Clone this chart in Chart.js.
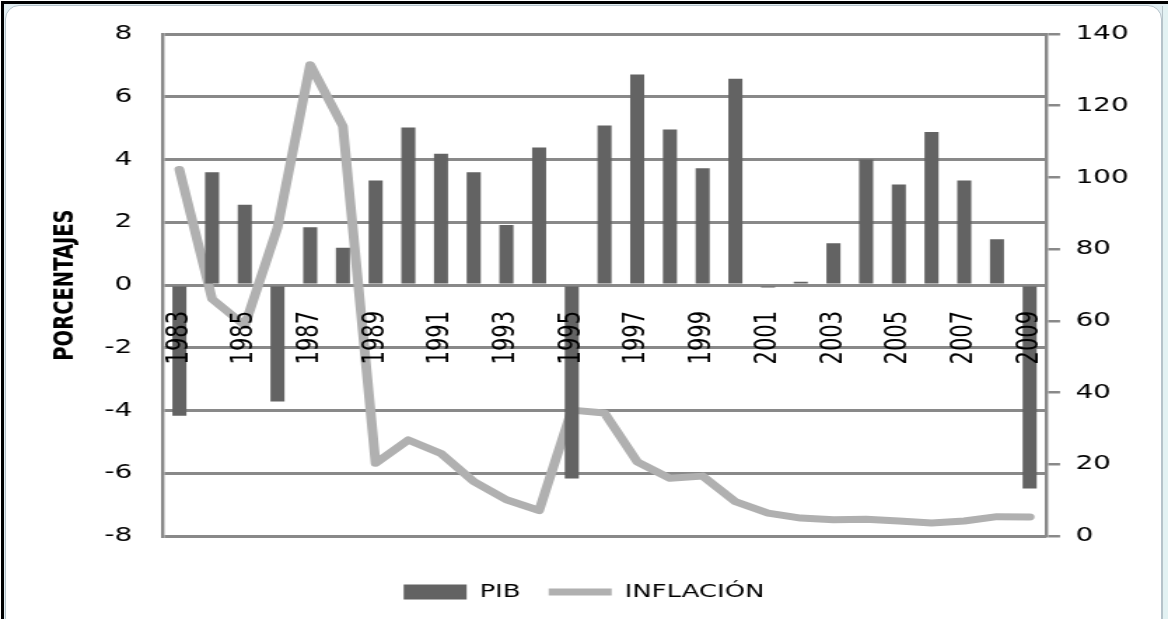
<!DOCTYPE html>
<html lang="es">
<head>
<meta charset="utf-8">
<title>PIB e inflación, 1983-2009</title>
<script src="https://cdn.jsdelivr.net/npm/chart.js@4.4.1/dist/chart.umd.min.js"></script>
<style>
  html, body { margin: 0; padding: 0; width: 1168px; height: 619px; overflow: hidden; background: #fff; }
  #mat   { position: absolute; left: 4px; top: 4px; width: 1164px; height: 615px; background: #e2eef2; }
  #edge  { position: absolute; left: 1px; top: 1px; width: 1167px; height: 618px; box-sizing: border-box;
           border-top: 3px solid #000; border-left: 3px solid #000; }
  #side  { position: absolute; left: 1162px; top: 6px; width: 6px; height: 613px; box-sizing: border-box;
           background: #e3f2f3; border-left: 1px solid #b6c3c9; }
  #panel { position: absolute; left: 5px; top: 5px; width: 1157px; height: 680px; box-sizing: border-box;
           border: 1px solid #b4c2ca; border-radius: 14px; background: #fff; }
  #plot  { position: absolute; left: 0; top: 0; width: 834px; height: 619px;
           transform-origin: 0 0; transform: scaleX(1.40048); }
</style>
</head>
<body>
<div id="mat"></div>
<div id="side"></div>
<div id="panel"></div>
<div id="edge"></div>
<canvas id="plot" width="834" height="619"></canvas>
<script>
// Años de la serie
const years = ['1983', '1984', '1985', '1986', '1987', '1988', '1989', '1990', '1991',
               '1992', '1993', '1994', '1995', '1996', '1997', '1998', '1999', '2000',
               '2001', '2002', '2003', '2004', '2005', '2006', '2007', '2008', '2009'];

// Crecimiento del PIB (%), eje izquierdo
const pib = [-4.17, 3.59, 2.56, -3.71, 1.84, 1.19, 3.33, 5.02, 4.18,
             3.59, 1.91, 4.38, -6.17, 5.08, 6.71, 4.96, 3.72, 6.57,
             -0.08, 0.1, 1.33, 4.0, 3.2, 4.88, 3.33, 1.46, -6.49];

// Inflación anual (%), eje derecho
const inflacion = [102.2, 66.1, 58.7, 86.0, 131.4, 114.3, 20.3, 26.8, 23.0,
                   15.2, 10.1, 7.1, 35.1, 34.3, 20.7, 16.1, 16.7, 9.6,
                   6.4, 5.0, 4.5, 4.7, 4.2, 3.6, 4.2, 5.4, 5.3];

// Rangos de los ejes
const pibAxis = { min: -8, max: 8, step: 2 };
const inflAxis = { min: 0, max: 140, step: 20 };

Chart.defaults.font.family = "'DejaVu Sans', sans-serif";
Chart.defaults.color = '#000';

const gridGray = '#898989';

new Chart(document.getElementById('plot'), {
  type: 'bar',
  data: {
    labels: years,
    datasets: [
      {
        label: 'PIB',
        type: 'bar',
        data: pib,
        xAxisID: 'x',
        yAxisID: 'y',
        backgroundColor: '#636363',
        borderWidth: 0,
        barPercentage: 0.43,
        categoryPercentage: 1,
        pointStyle: 'rect'
      },
      {
        label: 'INFLACIÓN',
        type: 'line',
        data: inflacion,
        xAxisID: 'x',
        yAxisID: 'y1',
        borderColor: '#b0b0b0',
        backgroundColor: '#b0b0b0',
        borderWidth: 7,
        borderJoinStyle: 'round',
        borderCapStyle: 'round',
        pointRadius: 0,
        pointStyle: 'line',
        tension: 0,
        fill: false
      }
    ]
  },
  options: {
    responsive: false,
    animation: false,
    events: [],
    layout: { padding: { left: 0, right: 0, top: 32.3, bottom: 7.75 } },
    plugins: {
      tooltip: { enabled: false },
      legend: {
        position: 'bottom',
        labels: {
          usePointStyle: true,
          pointStyleWidth: 45,
          boxHeight: 15,
          padding: 20,
          color: '#000',
          font: { size: 18.5 }
        }
      }
    },
    scales: {
      // años, colgados de la línea del cero y dibujados encima de las barras
      x: {
        type: 'category',
        position: { y: 0 },
        offset: true,
        grid: { display: false, drawTicks: false },
        border: { display: false },
        ticks: {
          z: 1,
          autoSkip: false,
          minRotation: 90,
          maxRotation: 90,
          padding: 26,
          font: { size: 21 },
          callback(value, index) {
            return index % 2 === 0 ? this.getLabelForValue(value) : '';
          }
        }
      },
      // separación entre el área de trazado y la leyenda
      gap: {
        type: 'linear',
        axis: 'x',
        position: 'bottom',
        display: true,
        grid: { display: false, drawTicks: false },
        border: { display: false },
        ticks: { display: false },
        afterFit(scale) { scale.height = 26.75; }
      },
      y: {
        type: 'linear',
        position: 'left',
        min: pibAxis.min,
        max: pibAxis.max,
        ticks: { stepSize: pibAxis.step, padding: 22, font: { size: 20 } },
        grid: { color: gridGray, lineWidth: 3, drawTicks: false },
        border: { color: gridGray, width: 2.4 },
        title: {
          display: true,
          text: 'PORCENTAJES',
          color: '#000',
          font: { size: 19.5, weight: 'bold', lineHeight: 1.2 },
          padding: { top: 34.9, bottom: 0 }
        },
        afterFit(scale) { scale.width = 116.4; }
      },
      y1: {
        type: 'linear',
        position: 'right',
        min: inflAxis.min,
        max: inflAxis.max,
        ticks: { stepSize: inflAxis.step, padding: 11, font: { size: 20 } },
        grid: { drawOnChartArea: false, drawTicks: true, tickLength: 10, color: gridGray, lineWidth: 2.5 },
        border: { color: gridGray, width: 2.4 },
        afterFit(scale) { scale.width = 87.1; }
      }
    }
  }
});
</script>
</body>
</html>
